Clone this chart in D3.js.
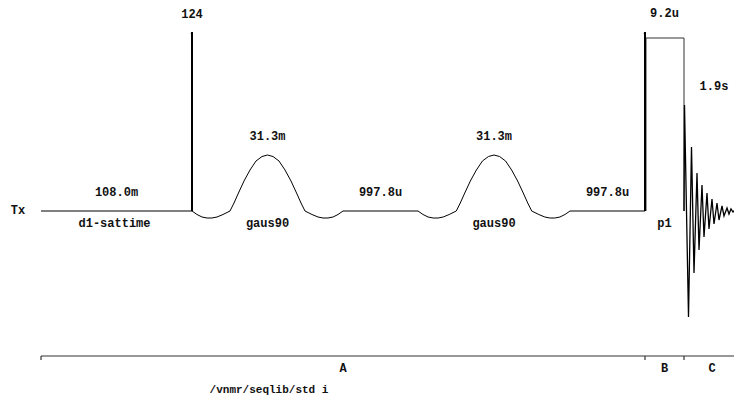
<!DOCTYPE html>
<html>
<head>
<meta charset="utf-8">
<script src="https://cdn.jsdelivr.net/npm/d3@7"></script>
<style>
  html, body { margin: 0; padding: 0; background: #fff; }
  svg text { font-family: "Liberation Mono", "Courier New", monospace; font-weight: bold; font-size: 12px; fill: #111; }
  svg text.title { font-size: 11px; }
</style>
</head>
<body>
<svg id="chart" width="734" height="397"></svg>
<script>
// sequence events, widths in display units (one unit ~ one pixel on the Tx trace)
const segNames = ['d1', 'gaus1', 'd2', 'gaus2', 'd3', 'p1', 'acq'];
const segKinds = ['delay', 'shaped', 'delay', 'shaped', 'delay', 'pulse', 'fid'];
const segWidths = [151, 151, 75, 152, 75, 39, 60];
const topLabels = ['108.0m', '31.3m', '997.8u', '31.3m', '997.8u', '9.2u', '1.9s'];
const bottomLabels = ['d1-sattime', 'gaus90', '', 'gaus90', '', 'p1', ''];

// power level markers drawn at the start of a segment
const powerAt = [1, 5];
const powerValues = [179, 179];
const powerLabels = ['124', ''];

// hard pulse height (amplitude units)
const pulseAmp = 173;

// gaussian shape: [offset, amplitude]
const gausShape = [
  [0, 0], [5, -3.5], [10, -6], [15, -7], [20, -7], [25, -6], [31, -3.5], [38, 0],
  [42, 8], [46, 17], [52, 30], [58, 41], [64, 50], [70, 54.5], [75.5, 56],
  [81, 54.5], [87, 50], [93, 41], [99, 30], [105, 17], [109, 8], [113, 0],
  [120, -3.5], [126, -6], [131, -7], [136, -7], [141, -6], [146, -3.5], [151, 0]
];

// FID trace: [offset, amplitude]
const fidTrace = [
  [0, 0], [0.5, 106], [4.5, -106], [7.5, 64], [10, -62], [13, 38], [15, -39],
  [18, 26], [20, -26], [23, 18], [25, -18], [28, 12], [30, -13], [33, 8], [35, -9],
  [38, 5], [40, -5], [43, 3], [45, -3], [47, 2], [49, -1], [50, 0], [60, 0]
];

// timing bracket along the bottom
const sectionNames = ['A', 'B', 'C'];
const sectionEnds = [0, 604, 643, 703];
const title = '/vnmr/seqlib/std i';

const svg = d3.select('#chart');
const total = d3.sum(segWidths);
const starts = segWidths.map((w, i) => d3.sum(segWidths.slice(0, i)));

const x = d3.scaleLinear().domain([0, total]).range([41, 744]);
const y = d3.scaleLinear().domain([0, 179]).range([211, 32]);

const g = svg.append('g');
const line = d3.line().x(d => x(d[0])).y(d => y(d[1]));

// channel label
g.append('text').attr('x', 18).attr('y', y(0) + 3).attr('text-anchor', 'middle').text('Tx');

segNames.forEach((name, i) => {
  const s = starts[i], w = segWidths[i], kind = segKinds[i];
  let pts, peak;
  if (kind === 'delay') {
    pts = [[s, 0], [s + w, 0]]; peak = 0;
  } else if (kind === 'shaped') {
    pts = gausShape.map(p => [s + p[0] * w / 151, p[1]]); peak = d3.max(gausShape, p => p[1]);
  } else if (kind === 'pulse') {
    pts = [[s + 1, 0], [s + 1, pulseAmp], [s + w, pulseAmp], [s + w, 0]]; peak = 179;
  } else {
    pts = fidTrace.map(p => [s + p[0], p[1]]); peak = d3.max(fidTrace, p => p[1]);
  }
  g.append('path').attr('d', line(pts)).attr('fill', 'none')
    .attr('stroke', kind === 'pulse' ? '#333' : '#000').attr('stroke-width', kind === 'fid' ? 1.3 : 1);

  if (topLabels[i]) {
    const cx = kind === 'fid' ? x(s + 30) : x(s + w / 2);
    g.append('text').attr('x', cx).attr('y', y(peak) - 15).attr('text-anchor', 'middle').text(topLabels[i]);
  }
  if (bottomLabels[i]) {
    g.append('text').attr('x', x(s + w / 2) - (i === 0 ? 2 : 0)).attr('y', y(0) + 16).attr('text-anchor', 'middle').text(bottomLabels[i]);
  }
});

// power level lines
powerAt.forEach((idx, i) => {
  const px = x(starts[idx]);
  g.append('line').attr('x1', px).attr('x2', px).attr('y1', y(0)).attr('y2', y(powerValues[i]))
    .attr('stroke', '#000').attr('stroke-width', 2);
  g.append('line').attr('x1', px).attr('x2', px - 1).attr('y1', y(powerValues[i])).attr('y2', y(powerValues[i]) + 2)
    .attr('stroke', '#000').attr('stroke-width', 1);
  if (powerLabels[i]) {
    g.append('text').attr('x', px).attr('y', y(powerValues[i]) - 14).attr('text-anchor', 'middle').text(powerLabels[i]);
  }
});

// bracket
const by = 356;
g.append('line').attr('x1', x(0)).attr('x2', 734).attr('y1', by).attr('y2', by).attr('stroke', '#333').attr('stroke-width', 1.2);
sectionEnds.slice(0, 3).forEach(e => {
  g.append('line').attr('x1', x(e)).attr('x2', x(e)).attr('y1', by).attr('y2', by + 4).attr('stroke', '#333').attr('stroke-width', 1.2);
});
sectionNames.forEach((n, i) => {
  const c = (sectionEnds[i] + sectionEnds[i + 1]) / 2;
  g.append('text').attr('x', x(c) - (i === 2 ? 2 : 0)).attr('y', by + 16).attr('text-anchor', 'middle').text(n);
});

g.append('text').attr('class', 'title').attr('x', 269).attr('y', 393).attr('text-anchor', 'middle').text(title);
</script>
</body>
</html>
